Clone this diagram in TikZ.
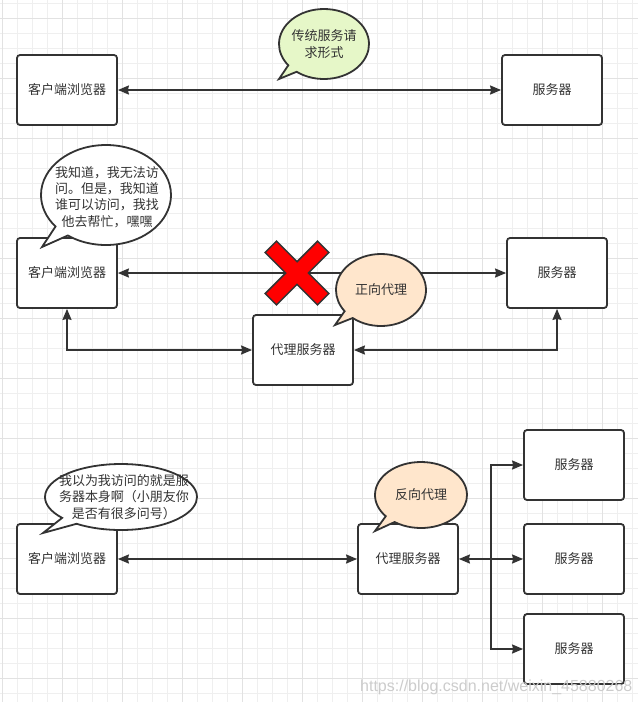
\documentclass[tikz,border=0pt]{standalone}
\usepackage{fontspec}
\newfontfamily\cjk{Noto Sans CJK SC}
\newfontfamily\wmfont{Liberation Sans}
\usetikzlibrary{shapes.callouts,shapes.geometric,arrows.meta}
\definecolor{ink}{HTML}{333333}
\definecolor{gridminor}{HTML}{EFEFEF}
\definecolor{gridmajor}{HTML}{E2E2E2}
\definecolor{bubgreen}{HTML}{E6F7C8}
\definecolor{bubpeach}{HTML}{FFE6CC}
\definecolor{xred}{HTML}{FF0000}
\tikzset{
  boxnode/.style={draw=ink, line width=1.8pt, rounded corners=3pt, fill=white,
    minimum width=100pt, minimum height=70pt, inner sep=0pt, text=ink,
    font={\cjk\fontsize{13}{16.3}\selectfont}},
  bubble/.style={ellipse callout, draw=ink, line width=1.8pt, inner sep=0pt},
  bubtext/.style={align=center, inner sep=0pt, text=ink, font={\cjk\fontsize{13}{16.3}\selectfont}},
  conn/.style={draw=ink, line width=1.8pt,
    arrows={Stealth[length=11pt,width=9pt,inset=1pt]-Stealth[length=11pt,width=9pt,inset=1pt]}},
  conn1/.style={draw=ink, line width=1.8pt,
    arrows={-Stealth[length=11pt,width=9pt,inset=1pt]}}
}
\begin{document}
\begin{tikzpicture}[x=1pt,y=-1pt]
\useasboundingbox (0,0) rectangle (638,702);
\fill[white] (0,0) rectangle (638,702);
% grid
\foreach \gx in {2,17,...,632} {\draw[gridminor, line width=1pt] (\gx,0) -- (\gx,702);}
\foreach \gy in {3,18,...,693} {\draw[gridminor, line width=1pt] (0,\gy) -- (638,\gy);}
\foreach \gx in {2,62,...,602} {\draw[gridmajor, line width=1pt] (\gx,0) -- (\gx,702);}
\foreach \gy in {18,78,...,678} {\draw[gridmajor, line width=1pt] (0,\gy) -- (638,\gy);}

% ---- section 1 ----
\node[boxnode] (c1) at (67,90) {客户端浏览器};
\node[boxnode] (s1) at (552,90) {服务器};
\draw[conn] (c1.east) -- (s1.west);

% ---- section 2 ----
\node[boxnode] (c2) at (67,273) {客户端浏览器};
\node[boxnode] (s2) at (557,273) {服务器};
\node[boxnode] (p2) at (303,350) {代理服务器};
\draw[conn] (c2.east) -- (s2.west);
\draw[conn] (c2.south) |- (p2.west);
\draw[conn] (s2.south) |- (p2.east);

% red cross
\begin{scope}[shift={(297,273)}, rotate=45]
\filldraw[fill=xred, draw=ink, line width=1.5pt, line join=miter]
  (8,37) -- (8,8) -- (37,8) -- (37,-8) -- (8,-8) -- (8,-37) -- (-8,-37) -- (-8,-8)
  -- (-37,-8) -- (-37,8) -- (-8,8) -- (-8,37) -- cycle;
\end{scope}

% ---- section 3 ----
\node[boxnode] (c3) at (67,559) {客户端浏览器};
\node[boxnode] (p3) at (408,559) {代理服务器};
\node[boxnode] (sA) at (574,465) {服务器};
\node[boxnode] (sB) at (574,559) {服务器};
\node[boxnode] (sC) at (574,649) {服务器};
\draw[conn] (c3.east) -- (p3.west);
\draw[conn] (p3.east) -- (sB.west);
\coordinate (bus) at (491,559);
\draw[conn1] (bus) |- (sA.west);
\draw[conn1] (bus) |- (sC.west);

% ---- bubbles ----
\node[bubble, fill=bubgreen, minimum width=90pt, minimum height=70pt,
  callout absolute pointer={(279,79)}] (b1) at (324,44) {};
\node[bubtext] (t1) at (b1.center) {传统服务请\\求形式};
\node[bubble, fill=white, minimum width=130pt, minimum height=100pt,
  callout absolute pointer={(42,247)}] (b2) at (106,195) {};
\node[bubtext] (t2) at (107,197) {我知道，我无法访\\问。但是，我知道\\谁可以访问，我找\\他去帮忙，嘿嘿};
\node[bubble, fill=bubpeach, minimum width=90pt, minimum height=72pt,
  callout absolute pointer={(335,325)}] (b3) at (381,290) {};
\node[bubtext] (t3) at (b3.center) {正向代理};
\node[bubble, fill=white, minimum width=152pt, minimum height=66pt,
  callout absolute pointer={(43,533)}] (b4) at (121,497) {};
\node[bubtext] (t4) at (124,497) {我以为我访问的就是服\\务器本身啊（小朋友你\\是否有很多问号）};
\node[bubble, fill=bubpeach, minimum width=92pt, minimum height=66pt,
  callout absolute pointer={(375,531)}] (b5) at (421,495) {};
\node[bubtext] (t5) at (b5.center) {反向代理};

% watermark
\node[anchor=west, inner sep=0pt, text=black!20, font={\wmfont\fontsize{16}{18}\selectfont}]
  (wm) at (360,687) {https://blog.csdn.net/weixin\_45880268};
\end{tikzpicture}
\end{document}
